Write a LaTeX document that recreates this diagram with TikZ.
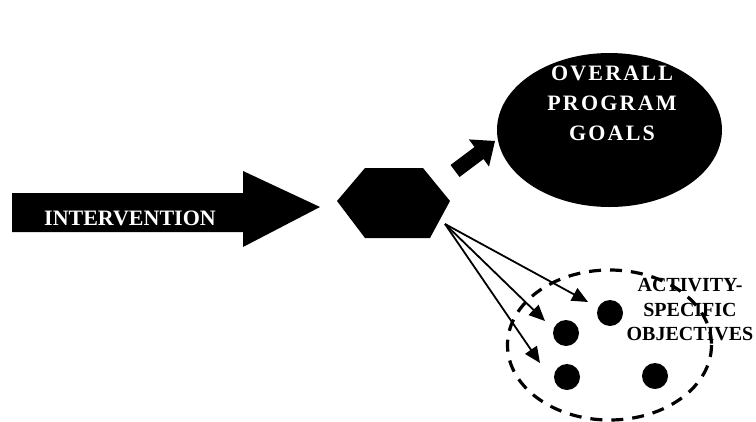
\documentclass[tikz,border=0pt]{standalone}
\usepackage{fontspec}
\setmainfont{Liberation Serif}
\usetikzlibrary{arrows.meta}
\begin{document}
\begin{tikzpicture}[x=1pt,y=-1pt,
  blk/.style={fill=black,draw=none},
  thinarrow/.style={line width=1.8pt,-{Triangle[length=16pt,width=14pt]}},
  dot/.style={circle,fill=black,minimum size=26pt,inner sep=0pt},
  whitetxt/.style={text=white,font=\bfseries},
]
\useasboundingbox (0,0) rectangle (756,421);
% big arrow
\fill[blk] (12,193) -- (243,193) -- (243,171) -- (320,207) -- (243,247) -- (243,232) -- (12,232) -- cycle;
\node[whitetxt,font=\bfseries\fontsize{22}{24}\selectfont] (interv) at (130,218) {INTERVENTION};
% hexagon
\fill[blk] (337,201) -- (365,168) -- (423,168) -- (450,201) -- (430,238) -- (365,238) -- cycle;
\coordinate (hex) at (393,203);
\coordinate (hexout) at (445,224);
% small block arrow
\fill[blk] (450.5,165) -- (474.5,147) -- (468.8,139.4) -- (495,141) -- (489,166.6) -- (483.5,159) -- (459.5,177) -- cycle;
% goals ellipse
\fill[blk] (609.5,130) ellipse [x radius=112.5, y radius=77];
\node[text=white,align=center,font=\bfseries\fontsize{22}{30}\selectfont\addfontfeatures{LetterSpace=10}] (goals) at (612,103) {OVERALL\\PROGRAM\\GOALS};
% dots
\node[dot] (d1) at (566,333) {};
\node[dot] (d2) at (610,313) {};
\node[dot] (d3) at (567,377) {};
\node[dot] (d4) at (655,376) {};
% thin arrows
\coordinate (t1) at (588,302);
\coordinate (t2) at (545,321);
\coordinate (t3) at (540,363);
\draw[thinarrow] (hexout) -- (t1);
\draw[thinarrow] (hexout) -- (t2);
\draw[thinarrow] (hexout) -- (t3);
% text
\node[align=center,font=\bfseries\fontsize{20}{24.5}\selectfont,inner sep=0pt] (obj) at (690,310) {ACTIVITY-\\SPECIFIC\\OBJECTIVES};
% dashed ellipse
\draw[line width=3.2pt,dash pattern=on 12pt off 9pt] (609.5,345) ellipse [x radius=102, y radius=75];
\end{tikzpicture}
\end{document}
